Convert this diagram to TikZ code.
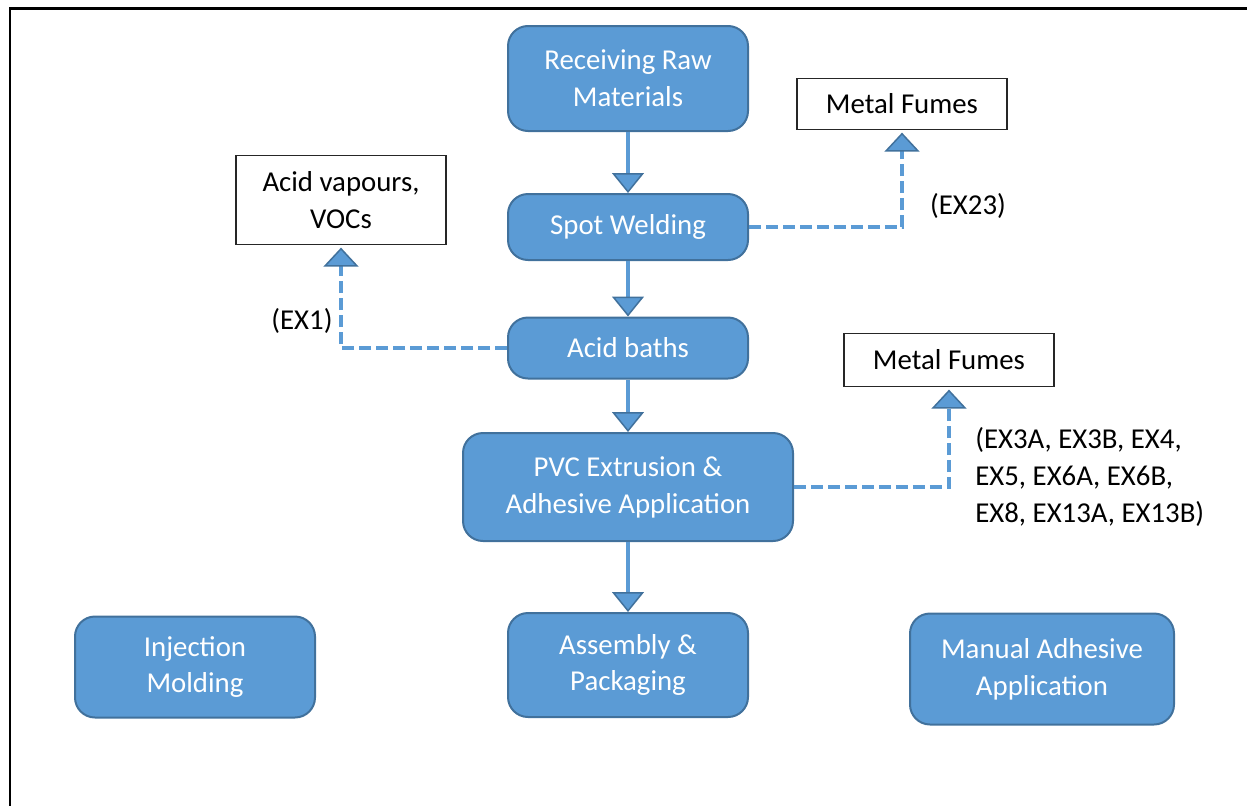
\documentclass[tikz,border=0pt]{standalone}
\usepackage{fontspec}
\setmainfont{Carlito}
\usetikzlibrary{arrows.meta}
\definecolor{boxFill}{RGB}{91,155,213}
\definecolor{boxBorder}{RGB}{65,113,156}
\newcommand{\unitPx}{0.02cm}
\tikzstyle{chart} = [x = \unitPx, y = -\unitPx]
\tikzstyle{chartFont} = [font=\fontsize{16.4}{21}\selectfont]
\tikzstyle{processStyle} = [chartFont, draw=boxBorder, fill=boxFill, text=white, line width=0.04cm, rounded corners = .4cm, align=center, inner sep=0]
\tikzstyle{emissionStyle} = [chartFont, draw=black!85, fill=white, line width=0.025cm, align=center, inner sep=0]
\tikzstyle{codeText} = [chartFont, align=left, inner sep=0]
\tikzstyle{flowLine} = [color=boxFill, line width=0.08cm, -{Triangle[width=.64cm, length=.4cm, fill=boxFill, color=boxBorder, line width=0.03cm]}]
\tikzstyle{emissionLine} = [color=boxFill, line width=0.07cm, dash pattern=on 0.24cm off 0.1cm, shorten >= 0.05cm, -{Triangle[width=.7cm, length=.38cm, fill=boxFill, color=boxBorder, line width=0.03cm]}]
\newcommand{\processBox}[5]{\node [processStyle, minimum width=#4*\unitPx, minimum height=#5*\unitPx] (#1) at (#2) {#3};}
\newcommand{\emissionBox}[5]{\node [emissionStyle, minimum width=#4*\unitPx, minimum height=#5*\unitPx] (#1) at (#2) {#3};}

\begin{document}
\begin{tikzpicture}[chart]
  \useasboundingbox (0,0) rectangle (1247,805);
  \clip (0,0) rectangle (1247,805);
  % page frame, runs off to the right and bottom
  \draw [line width=0.06cm] (10,8) rectangle (1300,860);

  % main process line
  \processBox{receiving}{628,78.5}{Receiving Raw\\Materials}{240}{105}
  \processBox{welding}{628,227}{Spot Welding}{240}{66}
  \processBox{acid}{628,348}{Acid baths}{240}{61}
  \processBox{extrusion}{628,487}{PVC Extrusion \&\\Adhesive Application}{330}{108}
  \processBox{assembly}{628,665}{Assembly \&\\Packaging}{240}{104}
  \processBox{injection}{195,667}{Injection\\Molding}{240}{101}
  \processBox{manual}{1042,669}{Manual Adhesive\\Application}{264}{111}

  % emissions
  \emissionBox{fumesWeld}{902,104}{Metal Fumes}{210}{51}
  \emissionBox{vapours}{341,200}{Acid vapours,\\VOCs}{210}{89}
  \emissionBox{fumesExtrusion}{949,360}{Metal Fumes}{210}{53}

  \draw [flowLine] (receiving) -- (welding);
  \draw [flowLine] (welding) -- (acid);
  \draw [flowLine] (acid) -- (extrusion);
  \draw [flowLine] (extrusion) -- (assembly);

  \draw [emissionLine] (welding.east) -| (fumesWeld.south);
  \draw [emissionLine] (acid.west) -| (vapours.south);
  \draw [emissionLine] (extrusion.east) -| (fumesExtrusion.south);

  \node [codeText] (codeWeld) at (968,206) {(EX23)};
  \node [codeText] (codeAcid) at (302,321) {(EX1)};
  \node [codeText, anchor=west] (codeExtrusion) at (975,477) {(EX3A, EX3B, EX4,\\EX5, EX6A, EX6B,\\EX8, EX13A, EX13B)};
\end{tikzpicture}
\end{document}
